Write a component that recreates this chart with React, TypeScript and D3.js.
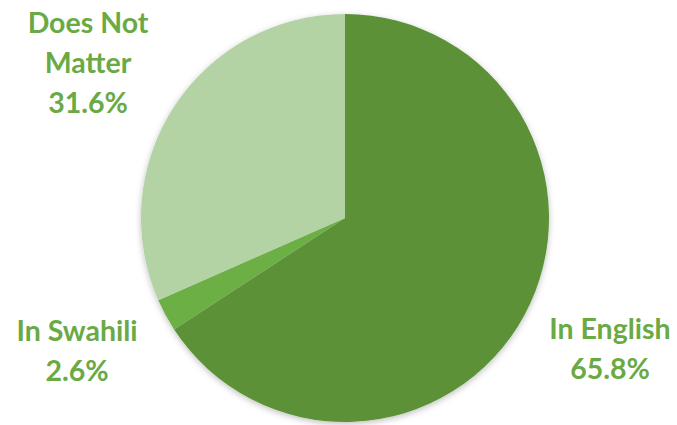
import React from "react";
import * as d3 from "d3";

const categories = ["In English", "In Swahili", "Does Not Matter"];
const values = [65.8, 2.6, 31.6];
const labelLines = [["In English", "65.8%"], ["In Swahili", "2.6%"], ["Does Not", "Matter", "31.6%"]];
const colors = ["#5b9138", "#6cb044", "#b4d3a4"];

const W = 677, H = 425;
const cx = 345, cy = 218, r = 204;
const labelPos: [number, number][] = [[610, 328], [77, 330], [88, 22]];

export default function App() {
  const pie = d3.pie<number>().sort(null).value((d) => d);
  const arcs = pie(values);
  const arc = d3.arc<d3.PieArcDatum<number>>().innerRadius(0).outerRadius(r);
  return (
    <svg width={W} height={H} style={{ position: "absolute", left: 0, top: 0, background: "#fff" }}>
      <defs>
        <filter id="sh" x="-20%" y="-20%" width="140%" height="140%">
          <feDropShadow dx="0" dy="2" stdDeviation="3" floodColor="#000" floodOpacity="0.25" />
        </filter>
      </defs>
      <g transform={`translate(${cx},${cy})`} filter="url(#sh)">
        {arcs.map((a, i) => (
          <path key={categories[i]} d={arc(a) || ""} fill={colors[i]} />
        ))}
      </g>
      {labelLines.map((lines, i) => (
        <text
          key={categories[i]}
          x={labelPos[i][0]}
          y={labelPos[i][1]}
          textAnchor="middle"
          dominantBaseline="central"
          fontFamily="Lato, 'Open Sans', sans-serif"
          fontWeight="bold"
          fontSize={28.5}
          fill="#6aaa45"
        >
          {lines.map((l, j) => (
            <tspan key={j} x={labelPos[i][0]} dy={j === 0 ? 0 : 40}>
              {l}
            </tspan>
          ))}
        </text>
      ))}
    </svg>
  );
}
